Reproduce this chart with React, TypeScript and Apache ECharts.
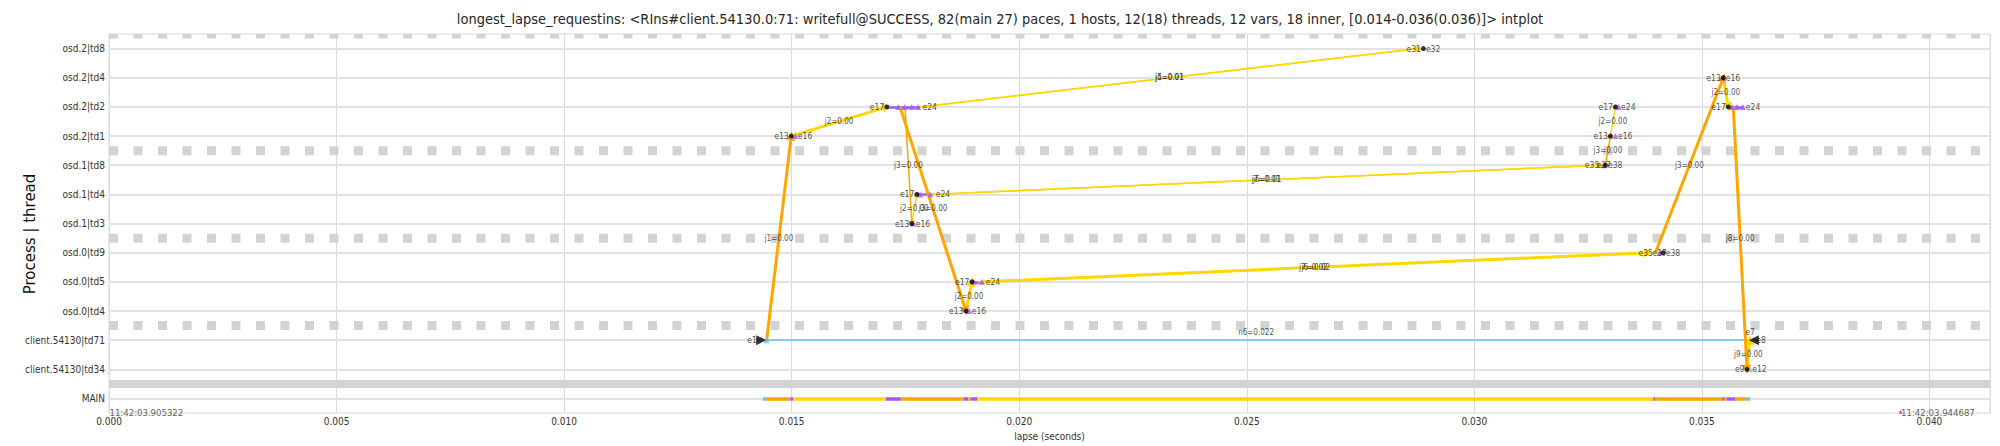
import React, { useEffect, useRef } from 'react';
import * as echarts from 'echarts';

const FONT = '"DejaVu Sans Condensed", "DejaVu Sans", sans-serif';
const TITLE =
  'longest_lapse_requestins: <RIns#client.54130.0:71: writefull@SUCCESS, 82(main 27) paces, 1 hosts, 12(18) threads, 12 vars, 18 inner, [0.014-0.036(0.036)]> intplot';

// rows, bottom to top
const rowNames = [
  'MAIN',
  'client.54130|td34',
  'client.54130|td71',
  'osd.0|td4',
  'osd.0|td5',
  'osd.0|td9',
  'osd.1|td3',
  'osd.1|td4',
  'osd.1|td8',
  'osd.2|td1',
  'osd.2|td2',
  'osd.2|td4',
  'osd.2|td8',
];
const xMax = 0.04133;
const xStep = 0.005;
const separatorRows = [0.5, 2.5, 5.5, 8.5, 12.5];
const separatorSolid = [true, false, false, false, false];

const startStamp = '11:42:03.905322';
const endStamp = '11:42:03.944687';
const endStampX = 0.039365;

// edges between thread events
const edgeX1 = [0.01445, 0.01499, 0.01738, 0.01749, 0.01764, 0.01883, 0.01782, 0.01782, 0.01811, 0.01805, 0.01921, 0.0191, 0.03288, 0.03299, 0.03398, 0.03547, 0.03569, 0.03599];
const edgeY1 = [2, 9, 10, 10, 6, 3, 10, 10, 7, 7, 4, 4, 8, 9, 5, 11, 10, 1];
const edgeX2 = [0.01499, 0.01709, 0.01883, 0.01764, 0.01775, 0.01896, 0.02877, 0.02879, 0.03279, 0.03279, 0.03382, 0.03382, 0.03299, 0.0331, 0.03547, 0.03558, 0.03599, 0.03605];
const edgeY2 = [9, 10, 3, 6, 7, 4, 12, 12, 8, 8, 5, 5, 9, 10, 11, 10, 1, 2];
const edgeText = ['j1=0.00', 'j2=0.00', 'j3=0.00', 'j3=0.00', 'j2=0.00', 'j2=0.00', 'j4=0.01', 'j5=0.01', 'j6=0.01', 'j7=0.01', 'j6=0.02', 'j7=0.02', 'j3=0.00', 'j2=0.00', 'j3=0.00', 'j2=0.00', 'j8=0.00', 'j9=0.00'];
const edgeKind = ['crit', 'yellow', 'crit', 'orangeThin', 'yellowThin', 'yellow', 'yellowThin', 'yellowThin', 'yellowThin', 'yellowThin', 'yellow', 'yellowThin', 'orangeThin', 'yellowThin', 'crit', 'yellow', 'crit', 'yellow'];

// network message on client thread
const netX1 = 0.01445;
const netX2 = 0.03598;
const netRow = 2;
const netText = 'n6=0.022';

// event nodes
const nodeDotX = [0.01499, 0.01709, 0.01764, 0.01775, 0.01883, 0.01896, 0.02888, 0.0328, 0.03398, 0.03299, 0.0331, 0.03547, 0.03558, 0.03599];
const nodeEndX = [0.01508, 0.01782, 0.01767, 0.01811, 0.0189, 0.01921, 0.02888, 0.03288, 0.03415, 0.0331, 0.03317, 0.03547, 0.03591, 0.03605];
const nodeRow = [9, 10, 6, 7, 3, 4, 12, 8, 5, 9, 10, 11, 10, 1];
const nodeLeft = ['e13', 'e17', 'e13', 'e17', 'e13', 'e17', 'e31', 'e35', 'e35', 'e13', 'e17', 'e13', 'e17', 'e9'];
const nodeRight = ['e16', 'e24', 'e16', 'e24', 'e16', 'e24', 'e32', 'e38', 'e38', 'e16', 'e24', 'e16', 'e24', 'e12'];
const midLabelX = [0.03284, 0.03407];
const midLabelRow = [8, 5];
const midLabelText = ['e37', 'e37'];

const dotX = [0.01499, 0.01709, 0.01764, 0.01775, 0.01883, 0.01896, 0.02888, 0.03288, 0.03415, 0.03299, 0.0331, 0.03547, 0.03558, 0.03599];
const dotRow = [9, 10, 6, 7, 3, 4, 12, 8, 5, 9, 10, 11, 10, 1];

const purpleX = [0.01508, 0.01734, 0.01749, 0.01764, 0.01778, 0.01767, 0.01782, 0.01804, 0.0189, 0.01901, 0.01918, 0.03284, 0.03407, 0.0331, 0.03317, 0.03547, 0.03566, 0.03577, 0.0359];
const purpleRow = [9, 10, 10, 10, 10, 6, 7, 7, 3, 4, 4, 8, 5, 9, 10, 11, 10, 10, 10];
const purpleSegX1 = [0.01709, 0.01775, 0.01896, 0.03558];
const purpleSegX2 = [0.01782, 0.01811, 0.01921, 0.03591];
const purpleSegRow = [10, 7, 4, 10];

// client request start / end markers
const sendX = 0.01433;
const recvX = 0.03614;
const clientRow = 2;
const cyanX = [0.01445, 0.03605];
const cyanRow = [2, 1];

// MAIN critical path segments
const mainX1 = [0.01437, 0.01445, 0.01497, 0.01503, 0.01707, 0.0174, 0.01878, 0.01888, 0.01893, 0.01908, 0.03393, 0.03398, 0.03545, 0.0355, 0.03555, 0.03574, 0.03598];
const mainX2 = [0.01445, 0.01497, 0.01503, 0.01707, 0.0174, 0.01878, 0.01888, 0.01893, 0.01908, 0.03393, 0.03398, 0.03545, 0.0355, 0.03555, 0.03574, 0.03598, 0.03606];
const mainKind = ['cyan', 'orange', 'purple', 'yellow', 'purple', 'orange', 'purple', 'orange', 'purple', 'yellow', 'purple', 'orange', 'purple', 'orange', 'purple', 'orange', 'cyan'];

const COLORS: Record<string, string> = {
  orange: '#ffa500',
  yellow: '#ffd700',
  purple: '#a05af0',
  cyan: '#5bc8f5',
};
const EDGE_STYLE: Record<string, { color: string; width: number; arrow: number }> = {
  crit: { color: COLORS.orange, width: 3, arrow: 9 },
  yellow: { color: COLORS.yellow, width: 3, arrow: 9 },
  yellowThin: { color: COLORS.yellow, width: 1.5, arrow: 6 },
  orangeThin: { color: COLORS.orange, width: 1.5, arrow: 6 },
};

const GRID = { left: 109, right: 10, top: 34, bottom: 28 };

function labelSeries(data: any[], position: any, distance: number, fontSize: number, extra: any = {}) {
  return {
    type: 'scatter',
    data,
    symbol: 'rect',
    symbolSize: 1,
    itemStyle: { color: 'rgba(0,0,0,0)' },
    silent: true,
    z: 10,
    emphasis: { disabled: true },
    label: {
      show: true,
      formatter: '{b}',
      position,
      distance,
      fontSize,
      fontFamily: FONT,
      color: '#1a1a1a',
      ...extra,
    },
  };
}

export default function App() {
  const ref = useRef<HTMLDivElement>(null);
  useEffect(() => {
    if (!ref.current) return;
    const chart = echarts.init(ref.current, undefined, { renderer: 'svg' });
    const plotH = 446 - GRID.top - GRID.bottom;
    const rowPx = plotH / 13;

    const series: any[] = [];

    // horizontal grid lines per row
    series.push({
      type: 'line',
      data: [],
      silent: true,
      z: 1,
      markLine: {
        z: 1,
        silent: true,
        symbol: ['none', 'none'],
        label: { show: false },
        lineStyle: { color: '#e2e2e2', width: 2, type: 'solid' },
        data: rowNames.map((_, i) => ({ yAxis: i })),
      },
    });

    // process separators
    separatorRows.forEach((y, i) => {
      const solid = separatorSolid[i];
      const isTop = y === separatorRows[separatorRows.length - 1];
      const w = solid ? 8 : isTop ? 4.5 : 9;
      const yy = isTop ? y - 2.25 / rowPx : y;
      series.push({
        type: 'line',
        data: [
          [0, yy],
          [xMax, yy],
        ],
        showSymbol: false,
        symbol: 'none',
        silent: true,
        z: 2,
        lineStyle: { color: '#d3d3d3', width: w, type: solid ? 'solid' : [9, 15.5], cap: 'butt' },
      });
    });

    // MAIN path
    series.push({
      type: 'lines',
      coordinateSystem: 'cartesian2d',
      silent: true,
      z: 3,
      data: mainX1.map((x, i) => ({
        coords: [
          [x, 0],
          [mainX2[i], 0],
        ],
        lineStyle: { color: COLORS[mainKind[i]], width: 3.5, opacity: 1 },
      })),
      lineStyle: { width: 3.5, opacity: 1 },
    });

    // network line
    series.push({
      type: 'lines',
      coordinateSystem: 'cartesian2d',
      silent: true,
      z: 3,
      data: [{ coords: [[netX1, netRow], [netX2, netRow]] }],
      lineStyle: { color: COLORS.cyan, width: 1.5, opacity: 1 },
    });

    // purple segments
    series.push({
      type: 'lines',
      coordinateSystem: 'cartesian2d',
      silent: true,
      z: 4,
      data: purpleSegX1.map((x, i) => ({
        coords: [
          [x, purpleSegRow[i]],
          [purpleSegX2[i], purpleSegRow[i]],
        ],
      })),
      lineStyle: { color: COLORS.purple, width: 2.5, opacity: 1 },
    });

    // edges by kind
    Object.keys(EDGE_STYLE).forEach((kind) => {
      const st = EDGE_STYLE[kind];
      const data: any[] = [];
      edgeX1.forEach((x, i) => {
        if (edgeKind[i] !== kind) return;
        data.push({
          coords: [
            [x, edgeY1[i]],
            [edgeX2[i], edgeY2[i]],
          ],
        });
      });
      series.push({
        type: 'lines',
        coordinateSystem: 'cartesian2d',
        silent: true,
        z: kind === 'crit' ? 6 : 5,
        data,
        symbol: ['none', 'triangle'],
        symbolSize: [0, st.arrow],
        lineStyle: { color: st.color, width: st.width, opacity: 1 },
      });
    });

    // markers
    series.push({
      type: 'scatter',
      silent: true,
      z: 7,
      symbol: 'triangle',
      symbolSize: 6,
      itemStyle: { color: COLORS.purple },
      data: purpleX.map((x, i) => [x, purpleRow[i]]),
    });
    series.push({
      type: 'scatter',
      silent: true,
      z: 7,
      symbol: 'triangle',
      symbolSize: 6,
      itemStyle: { color: COLORS.cyan },
      data: cyanX.map((x, i) => [x, cyanRow[i]]),
    });
    series.push({
      type: 'scatter',
      silent: true,
      z: 8,
      symbol: 'circle',
      symbolSize: 5,
      itemStyle: { color: '#000' },
      data: dotX.map((x, i) => [x, dotRow[i]]),
    });
    series.push({
      type: 'scatter',
      silent: true,
      z: 8,
      symbol: 'triangle',
      symbolSize: 10,
      itemStyle: { color: '#000' },
      data: [
        { value: [sendX, clientRow], symbolRotate: -90 },
        { value: [recvX, clientRow], symbolRotate: 90 },
      ],
    });
    series.push({
      type: 'scatter',
      silent: true,
      z: 8,
      symbol: 'triangle',
      symbolSize: 4,
      itemStyle: { color: '#e03030' },
      data: [[endStampX, -0.45]],
    });

    // node labels
    series.push(
      labelSeries(
        nodeDotX.map((x, i) => ({ value: [x, nodeRow[i]], name: nodeLeft[i] })).concat([
          { value: [sendX - 0.00004, clientRow], name: 'e1' },
        ]),
        'left',
        2,
        8.5
      )
    );
    series.push(
      labelSeries(
        nodeEndX.map((x, i) => ({ value: [x, nodeRow[i]], name: nodeRight[i] })).concat([
          { value: [recvX, clientRow], name: 'e8' },
        ]),
        'right',
        2,
        8.5
      )
    );
    series.push(
      labelSeries(
        midLabelX.map((x, i) => ({ value: [x, midLabelRow[i]], name: midLabelText[i] })),
        'inside',
        0,
        8.5
      )
    );
    series.push(labelSeries([{ value: [recvX, clientRow], name: 'e7' }], [-8, -12], 0, 8.5, { align: 'left', verticalAlign: 'top' }));

    // edge labels
    series.push(
      labelSeries(
        edgeX1.map((x, i) => ({
          value: [(x + edgeX2[i]) / 2, (edgeY1[i] + edgeY2[i]) / 2],
          name: edgeText[i],
        })),
        'inside',
        0,
        8
      )
    );
    series.push(
      labelSeries([{ value: [(netX1 + netX2) / 2, netRow], name: netText }], [0, -7], 0, 8, {
        align: 'center',
        verticalAlign: 'middle',
      })
    );

    // timestamps
    series.push(
      labelSeries(
        [
          { value: [0, -0.5], name: startStamp },
          { value: [endStampX, -0.5], name: endStamp },
        ],
        [1, -5],
        0,
        9.5,
        { align: 'left', verticalAlign: 'top', color: '#333' }
      )
    );

    chart.setOption({
      animation: false,
      backgroundColor: '#ffffff',
      title: {
        text: TITLE,
        left: 'center',
        top: 6,
        textStyle: { fontSize: 14.5, fontWeight: 'normal', fontFamily: FONT, color: '#262626' },
      },
      grid: { ...GRID, show: true, borderColor: '#d8d8d8', borderWidth: 1, containLabel: false },
      xAxis: {
        type: 'value',
        min: 0,
        max: xMax,
        interval: xStep,
        axisLine: { show: false },
        axisTick: { show: false },
        splitLine: { show: true, lineStyle: { color: '#dcdcdc', width: 1 } },
        axisLabel: {
          formatter: (v: number) => v.toFixed(3),
          fontSize: 10,
          fontFamily: FONT,
          color: '#333',
          margin: 3,
          showMaxLabel: false,
        },
        name: 'lapse (seconds)',
        nameLocation: 'middle',
        nameGap: 15,
        nameTextStyle: { fontSize: 10, fontFamily: FONT, color: '#333' },
      },
      yAxis: {
        type: 'value',
        min: -0.5,
        max: 12.5,
        interval: 0.5,
        axisLine: { show: false },
        axisTick: { show: false },
        splitLine: { show: false },
        axisLabel: {
          formatter: (v: number) => {
            const r = Math.round(v);
            return Math.abs(v - r) < 1e-6 && rowNames[r] ? rowNames[r] : '';
          },
          fontSize: 10,
          fontFamily: FONT,
          color: '#333',
          margin: 4,
        },
      },
      graphic: [
        {
          type: 'text',
          x: 30,
          y: 234,
          rotation: Math.PI / 2,
          style: {
            text: 'Process | thread',
            fontSize: 15,
            fontFamily: '"DejaVu Sans", sans-serif',
            fill: '#111',
            align: 'center',
            verticalAlign: 'middle',
          },
        },
      ],
      series,
    });
    return () => chart.dispose();
  }, []);
  return <div ref={ref} style={{ position: 'fixed', left: 0, top: 0, width: 2000, height: 446 }} />;
}
